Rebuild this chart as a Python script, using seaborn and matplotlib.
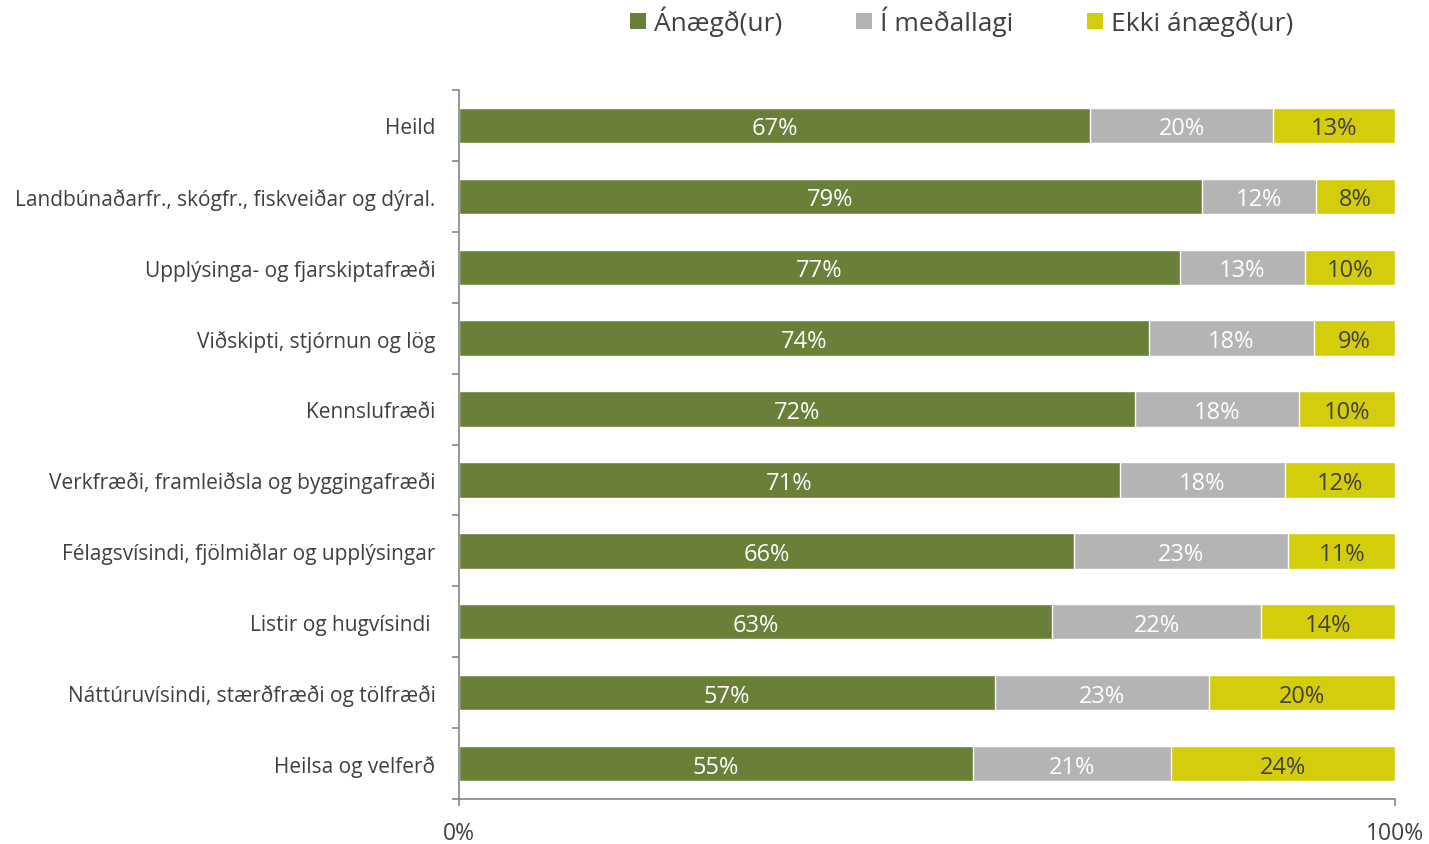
import matplotlib
matplotlib.use("Agg")
import matplotlib.pyplot as plt
import seaborn as sns
import pandas as pd
from matplotlib.patches import Patch

# Data
categories = [
    "Heild",
    "Landbúnaðarfr., skógfr., fiskveiðar og dýral.",
    "Upplýsinga- og fjarskiptafræði",
    "Viðskipti, stjórnun og lög",
    "Kennslufræði",
    "Verkfræði, framleiðsla og byggingafræði",
    "Félagsvísindi, fjölmiðlar og upplýsingar",
    "Listir og hugvísindi ",
    "Náttúruvísindi, stærðfræði og tölfræði",
    "Heilsa og velferð",
]
anaegd = [67.4, 79.4, 77.0, 73.7, 72.2, 70.6, 65.7, 63.4, 57.3, 54.9]
medallagi = [19.6, 12.2, 13.4, 17.6, 17.5, 17.6, 22.9, 22.3, 22.9, 21.2]
ekki = [13.0, 8.4, 9.6, 8.7, 10.3, 11.8, 11.4, 14.3, 19.9, 23.9]
series_names = ["Ánægð(ur)", "Í meðallagi", "Ekki ánægð(ur)"]

colors = ["#6A7F37", "#B4B4B4", "#D4CD0B"]
text_color = "#404040"

df = pd.DataFrame({"cat": categories, "a": anaegd, "m": medallagi, "e": ekki})
tot = df["a"] + df["m"] + df["e"]
df["a"] = df["a"] / tot * 100
df["m"] = df["m"] / tot * 100
df["e"] = df["e"] / tot * 100
df["am"] = df["a"] + df["m"]
df["ame"] = df["am"] + df["e"]

sns.set_theme(style="white")
plt.rcParams["font.family"] = ["Open Sans", "DejaVu Sans"]

fig = plt.figure(figsize=(14.29, 8.45), dpi=100)
ax = fig.add_axes([459 / 1429, 45 / 845, (1395 - 459) / 1429, (800 - 91) / 845])

# stacked bars by drawing cumulative totals back to front
sns.barplot(data=df, x="ame", y="cat", color=colors[2], width=0.5, ax=ax, saturation=1)
sns.barplot(data=df, x="am", y="cat", color=colors[1], width=0.5, ax=ax, saturation=1)
sns.barplot(data=df, x="a", y="cat", color=colors[0], width=0.5, ax=ax, saturation=1)

# value labels
for i, row in df.iterrows():
    ax.text(row["a"] / 2, i, f"{anaegd[i]:.0f}%", ha="center", va="center_baseline",
            color="white", fontsize=17)
    ax.text(row["a"] + row["m"] / 2, i, f"{medallagi[i]:.0f}%", ha="center",
            va="center_baseline", color="white", fontsize=17)
    ax.text(row["am"] + row["e"] / 2, i, f"{ekki[i]:.0f}%", ha="center",
            va="center_baseline", color=text_color, fontsize=17)

ax.set_xlim(0, 100)
ax.set_ylim(len(categories) - 0.5, -0.5)
ax.set_xlabel("")
ax.set_ylabel("")
ax.set_xticks([0, 100])
ax.set_xticklabels(["0%", "100%"], fontsize=16.5, color=text_color)
ax.tick_params(axis="x", length=5, color="#868686", width=1.2, pad=11, bottom=True)

# category labels without major ticks, ticks between categories
ax.set_yticks(range(len(categories)))
ax.set_yticklabels(categories, fontsize=15, color=text_color)
ax.tick_params(axis="y", which="major", length=0, pad=17)
ax.set_yticks([i - 0.5 for i in range(len(categories) + 1)], minor=True)
ax.tick_params(axis="y", which="minor", length=5, color="#868686", width=1.2, left=True)

for s in ["top", "right"]:
    ax.spines[s].set_visible(False)
for s in ["left", "bottom"]:
    ax.spines[s].set_color("#868686")
    ax.spines[s].set_linewidth(1.2)

handles = [Patch(facecolor=c, edgecolor="none") for c in colors]
fig.legend(handles, series_names, loc="upper center", bbox_to_anchor=(0.673, 1.02),
           ncol=3, frameon=False, fontsize=19, handlelength=0.6, handleheight=0.6,
           handletextpad=0.3, columnspacing=2.8, labelcolor=text_color)

plt.savefig("out.png", dpi=100)
